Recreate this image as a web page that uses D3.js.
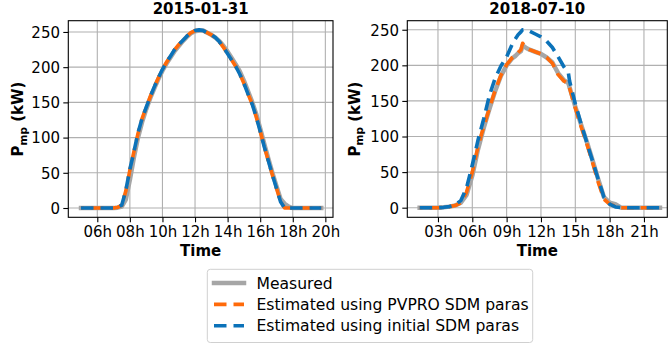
<!DOCTYPE html>
<html>
<head>
<meta charset="utf-8">
<script src="https://cdn.jsdelivr.net/npm/d3@7"></script>
<style>
  html, body { margin: 0; padding: 0; background: #ffffff; }
  svg { display: block; font-family: "DejaVu Sans", sans-serif; }
</style>
</head>
<body>
<svg id="chart" width="668" height="345"></svg>
<script>
// ---------------- DATA ----------------
const titles = ["2015-01-31", "2018-07-10"];
const legendLabels = ["Measured", "Estimated using PVPRO SDM paras", "Estimated using initial SDM paras"];
const yTicks = [0, 50, 100, 150, 200, 250];
const xTicksA = [6, 8, 10, 12, 14, 16, 18, 20];
const xTicksB = [3, 6, 9, 12, 15, 18, 21];

// Panel A: 2015-01-31 (hours of day, kW)
const timesA = [5.0, 7.0, 7.25, 7.5, 7.75, 8.0, 8.25, 8.5, 8.75, 9.0, 9.25, 9.5, 9.75, 10.0, 10.25, 10.5, 10.75,
  11.0, 11.25, 11.5, 11.75, 12.0, 12.25, 12.5, 12.75, 13.0, 13.25, 13.5, 13.75, 14.0, 14.25, 14.5, 14.75,
  15.0, 15.25, 15.5, 15.75, 16.0, 16.25, 16.5, 16.75, 17.0, 17.25, 17.5, 17.75, 18.0, 19.75];
const measuredA = [0, 0, 0.5, 2, 12, 40, 72, 100, 122, 140, 156, 170, 183, 195, 205, 214, 223,
  230, 237, 243, 248, 251, 252, 252, 249, 246, 242, 237, 230, 222, 213, 204, 194,
  181, 166, 151, 134, 113, 91, 70, 50, 31, 13, 6, 2, 0, 0];
const pvproA = [0, 0, 1, 4, 24, 54, 80, 106, 127, 143, 158, 172, 185, 197, 207, 216, 225,
  232, 238, 244, 249, 252, 253, 252, 249, 246, 242, 236, 228, 219, 210, 201, 190,
  177, 162, 148, 130, 109, 87, 67, 47, 28, 9, 0, 0, 0, 0];
const initialA = [0, 0, 1, 4, 25, 55, 80, 107, 127, 143, 158, 172, 185, 197, 207, 216, 225,
  232, 238, 244, 249, 252, 253, 252, 249, 246, 242, 236, 228, 219, 210, 201, 190,
  177, 162, 148, 130, 109, 87, 67, 47, 28, 9, 0, 0, 0, 0];

// Panel B: 2018-07-10
const timesB = [1.4, 3.0, 3.5, 4.0, 4.5, 5.0, 5.5, 6.0, 6.5, 7.0, 7.5, 8.0, 8.5, 9.0, 9.5, 9.75, 10.0, 10.25,
  10.4, 10.75, 11.0, 11.5, 12.0, 12.5, 13.0, 13.5, 14.0, 14.4, 14.5, 15.0, 15.5, 16.0, 16.5, 17.0, 17.5,
  18.0, 18.5, 19.0, 22.4];
const measuredB = [0, 0, 0.5, 1.5, 3, 7, 18, 45, 82, 112, 139, 164, 185, 200, 210, 213, 217, 220,
  228, 224, 222, 219, 216, 211, 204, 189, 179, 175, 169, 142, 117, 93, 67, 40, 15,
  7, 5, 0, 0];
const pvproB = [0, 0, 0.5, 1.5, 3, 7, 22, 50, 86, 114, 140, 165, 186, 201, 211, 214, 218, 222,
  231, 224, 222, 219, 216, 211, 203, 187, 178, 174, 168, 140, 114, 90, 64, 36, 12,
  5, 2, 0, 0];
const initialB = [0, 0, 0.5, 1.5, 4, 10, 28, 60, 95, 125, 158, 182, 199, 212, 230, 237, 243, 247,
  250, 250, 248, 244, 240, 234, 225, 212, 198, 189, 178, 146, 118, 92, 66, 40, 15,
  5, 1, 0, 0];

// ---------------- STYLE / LAYOUT ----------------
const colors = { measured: "#a6a6a6", pvpro: "#ff6a0a", initial: "#0b72b9" };
const dash = "12.5,7";
const FS = 15;
const FS_LEG = 15.6;
const plotTop = 20.7, plotBottom = 217.3;

const panels = [
  { title: titles[0], x0: 68.3, x1: 333.0, xDomain: [4.22, 20.47], yDomain: [-13.2, 266],
    xTicks: xTicksA, times: timesA, measured: measuredA, pvpro: pvproA, initial: initialA, ylabX: 23 },
  { title: titles[1], x0: 407.3, x1: 667.3, xDomain: [0.32, 23.04], yDomain: [-13.5, 262.7],
    xTicks: xTicksB, times: timesB, measured: measuredB, pvpro: pvproB, initial: initialB, ylabX: 359.5 }
];

const svg = d3.select("#chart");
svg.append("rect").attr("width", 668).attr("height", 345).attr("fill", "#fff");

const fmtH = d => String(d).padStart(2, "0") + "h";

panels.forEach(p => {
  const x = d3.scaleLinear().domain(p.xDomain).range([p.x0, p.x1]);
  const y = d3.scaleLinear().domain(p.yDomain).range([plotBottom, plotTop]);
  const g = svg.append("g");

  // grid
  g.append("g").selectAll("line").data(p.xTicks).join("line")
    .attr("x1", d => x(d)).attr("x2", d => x(d)).attr("y1", plotTop).attr("y2", plotBottom)
    .attr("stroke", "#b0b0b0").attr("stroke-width", 1.1);
  g.append("g").selectAll("line").data(yTicks).join("line")
    .attr("x1", p.x0).attr("x2", p.x1).attr("y1", d => y(d)).attr("y2", d => y(d))
    .attr("stroke", "#b0b0b0").attr("stroke-width", 1.1);

  // lines
  const mk = key => d3.line().x((d, i) => x(p.times[i])).y(d => y(d))(p[key]);
  const clipId = "clip" + Math.round(p.x0);
  svg.append("clipPath").attr("id", clipId).append("rect")
    .attr("x", p.x0).attr("y", plotTop).attr("width", p.x1 - p.x0).attr("height", plotBottom - plotTop);
  const lg = g.append("g").attr("clip-path", `url(#${clipId})`);
  lg.append("path").attr("d", mk("measured")).attr("fill", "none")
    .attr("stroke", colors.measured).attr("stroke-width", 4.5)
    .attr("stroke-linecap", "square").attr("stroke-linejoin", "round");
  lg.append("path").attr("d", mk("pvpro")).attr("fill", "none")
    .attr("stroke", colors.pvpro).attr("stroke-width", 3.6)
    .attr("stroke-dasharray", dash).attr("stroke-dashoffset", 9.75)
    .attr("stroke-linejoin", "round");
  lg.append("path").attr("d", mk("initial")).attr("fill", "none")
    .attr("stroke", colors.initial).attr("stroke-width", 3.6)
    .attr("stroke-dasharray", dash)
    .attr("stroke-linejoin", "round");

  // axes
  const xa = g.append("g").attr("transform", `translate(0,${plotBottom})`)
    .call(d3.axisBottom(x).tickValues(p.xTicks).tickFormat(fmtH).tickSize(5).tickPadding(4.5).tickSizeOuter(0));
  const ya = g.append("g").attr("transform", `translate(${p.x0},0)`)
    .call(d3.axisLeft(y).tickValues(yTicks).tickSize(5).tickPadding(3.3).tickSizeOuter(0));
  [xa, ya].forEach(a => {
    a.select(".domain").remove();
    a.selectAll(".tick line").attr("stroke", "#000").attr("stroke-width", 1.1);
    a.selectAll(".tick text").attr("fill", "#000").attr("font-size", FS)
      .attr("font-family", "DejaVu Sans, sans-serif");
  });
  ya.selectAll(".tick text").attr("dy", "0.36em");

  // frame
  g.append("rect").attr("x", p.x0).attr("y", plotTop).attr("width", p.x1 - p.x0).attr("height", plotBottom - plotTop)
    .attr("fill", "none").attr("stroke", "#000").attr("stroke-width", 1.1);

  // title
  g.append("text").attr("x", (p.x0 + p.x1) / 2).attr("y", 13.5).attr("text-anchor", "middle")
    .attr("font-size", FS).attr("font-weight", "bold").text(p.title);
  // x label
  g.append("text").attr("x", (p.x0 + p.x1) / 2).attr("y", 256).attr("text-anchor", "middle")
    .attr("font-size", FS).attr("font-weight", "bold").text("Time");
  // y label
  const yl = g.append("text")
    .attr("transform", `translate(${p.ylabX},${(plotTop + plotBottom) / 2}) rotate(-90)`)
    .attr("text-anchor", "middle").attr("font-size", FS).attr("font-weight", "bold");
  yl.append("tspan").text("P");
  yl.append("tspan").attr("font-size", 10.5).attr("dy", 3.5).text("mp");
  yl.append("tspan").attr("dy", -3.5).text(" (kW)");
});

// legend
const leg = svg.append("g");
leg.append("rect").attr("x", 207.3).attr("y", 269.3).attr("width", 325.4).attr("height", 73.2)
  .attr("rx", 3).attr("fill", "#fff").attr("fill-opacity", 0.8)
  .attr("stroke", "#d0d0d0").attr("stroke-width", 1);
const legRows = [
  { label: legendLabels[0], color: colors.measured, w: 4.5, dash: null },
  { label: legendLabels[1], color: colors.pvpro, w: 3.6, dash: dash },
  { label: legendLabels[2], color: colors.initial, w: 3.6, dash: dash }
];
const rowY = d3.scaleLinear().domain([0, 2]).range([283, 325.7]);
legRows.forEach((r, i) => {
  const ly = rowY(i);
  const ln = leg.append("line").attr("x1", 214).attr("x2", 244).attr("y1", ly).attr("y2", ly)
    .attr("stroke", r.color).attr("stroke-width", r.w);
  if (r.dash) ln.attr("stroke-dasharray", r.dash); else ln.attr("stroke-linecap", "square");
  leg.append("text").attr("x", 256.5).attr("y", ly + 5.7).attr("font-size", FS_LEG).attr("fill", "#000").text(r.label);
});
</script>
</body>
</html>
